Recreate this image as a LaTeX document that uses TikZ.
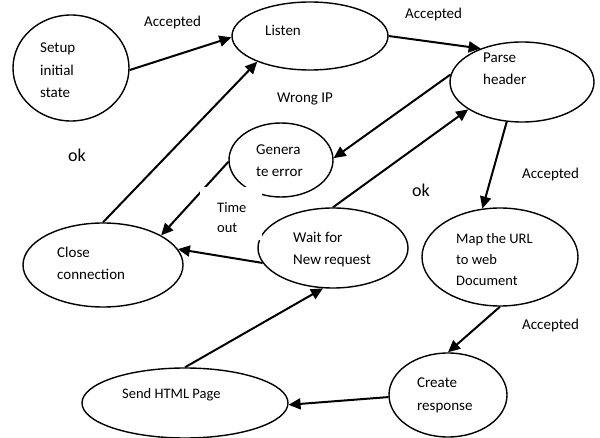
\documentclass[tikz,border=0pt]{standalone}
\usepackage{fontspec}
\setmainfont{Carlito}
\usetikzlibrary{shapes.geometric,arrows.meta}
\begin{document}
\begin{tikzpicture}[x=1pt,y=-1pt,
  st/.style={ellipse,draw,line width=1.4pt,inner sep=0pt},
  tx/.style={anchor=base west,inner sep=0pt,align=left,font=\fontsize{15}{22.5}\selectfont},
  lb/.style={anchor=base west,inner sep=0pt,font=\fontsize{15}{18}\selectfont},
  conn/.style={line width=2pt,-{Triangle[length=12pt,width=11pt]}}]
\useasboundingbox (0,0) rectangle (600,438);
% states
\node[st,minimum width=116pt,minimum height=106pt] (setup) at (71,68) {};
\node[st,minimum width=156pt,minimum height=68pt] (listen) at (310,36) {};
\node[st,minimum width=144pt,minimum height=80pt] (parse) at (522,82) {};
\node[st,minimum width=104pt,minimum height=74pt] (generr) at (281,160) {};
\node[st,minimum width=160pt,minimum height=84pt] (close) at (103,265) {};
\node[st,minimum width=150pt,minimum height=80pt] (wait) at (333,248) {};
\node[st,minimum width=156pt,minimum height=98pt] (map) at (500,257) {};
\node[st,minimum width=118pt,minimum height=84pt] (create) at (448,395) {};
\node[st,minimum width=206pt,minimum height=70pt] (send) at (185,403) {};
% connectors
\draw[conn] (setup.-2) -- (listen.181);
\draw[conn] (close.90) -- (listen.206);
\draw[conn] (listen.0) -- (parse.141);
\draw[conn] (parse.174) -- (generr.2);
\draw[conn] (wait.90) -- (parse.207);
\draw[conn] (generr.182) -- (close.27);
\draw[conn] (wait.192) -- (close.12.5);
\draw[conn] (parse.249) -- (map.110);
\draw[conn] (map.270) -- (create.90);
\draw[conn] (create.182) -- (send.359);
\draw[conn] (send.90) -- (wait.256);
% white text box of "Time out"
\node[fill=white,minimum width=62pt,minimum height=53pt,inner sep=0pt] (tobox) at (231,213.5) {};
% state texts (base = baseline of last line)
\node[tx] (setupT) at (40,98) {Setup\\initial\\state};
\node[tx] (listenT) at (265,36) {Listen};
\node[tx] (parseT) at (483,85) {Parse\\header};
\node[tx] (generrT) at (256,177) {Genera\\te error};
\node[tx] (closeT) at (57,280) {Close\\connection};
\node[tx] (waitT) at (293,265) {Wait for\\New request};
\node[tx,font=\fontsize{14.5}{21}\selectfont] (mapT) at (456,286) {Map the URL\\to web\\Document};
\node[tx] (createT) at (417,410) {Create\\response};
\node[tx,font=\fontsize{14.5}{21}\selectfont] (sendT) at (122,399) {Send HTML Page};
% labels
\node[lb] (acc1) at (144,27) {Accepted};
\node[lb] (acc2) at (405,19) {Accepted};
\node[lb] (acc3) at (522,179) {Accepted};
\node[lb] (acc4) at (522,330) {Accepted};
\node[lb] (wrong) at (277,103) {Wrong IP};
\node[lb,font=\fontsize{18}{20}\selectfont] (ok1) at (68,162) {ok};
\node[lb,font=\fontsize{18}{20}\selectfont] (ok2) at (412,197) {ok};
\node[lb,align=left,font=\fontsize{14.5}{20}\selectfont] (timeout) at (217,233) {Time\\out};
\end{tikzpicture}
\end{document}
